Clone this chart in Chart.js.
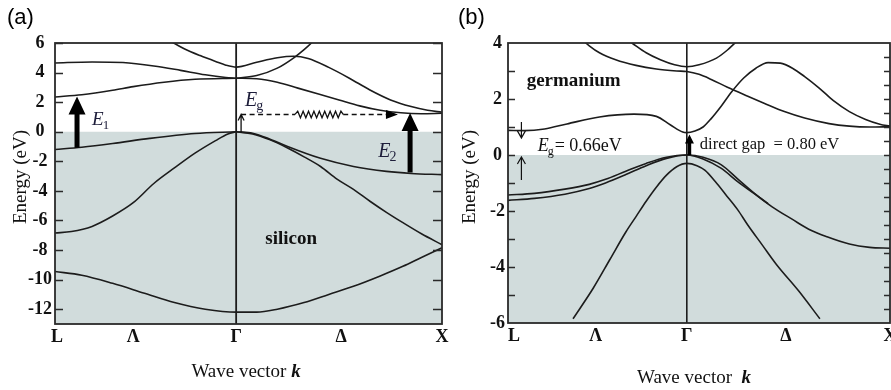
<!DOCTYPE html>
<html>
<head>
<meta charset="utf-8">
<script src="https://cdn.jsdelivr.net/npm/chart.js@4.4.1/dist/chart.umd.min.js"></script>
<style>
  html, body { margin: 0; padding: 0; background: #fff; }
  #wrap { position: relative; width: 891px; height: 390px; overflow: hidden; }
  canvas { position: absolute; top: 0; }
  #si { left: 0; }
  #ge { left: 450px; }
</style>
</head>
<body>
<div id="wrap">
  <canvas id="si" width="450" height="390"></canvas>
  <canvas id="ge" width="441" height="390"></canvas>
</div>
<script>
// Wave vector k along L -> Gamma -> X  (L = -0.88, Gamma = 0, X = 1)
const kTickLabels = ['L', 'Λ', 'Γ', 'Δ', 'X'];
const kTickPosSi = [-0.87, -0.5, 0, 0.51, 1];
const kTickPosGe = [-0.85, -0.448, 0, 0.488, 1];
const eTicksSi = [6, 4, 2, 0, -2, -4, -6, -8, -10, -12];
const eTicksGe = [4, 2, 0, -2, -4, -6];

// ---- silicon bands, [k, E(eV)] ----
const siC_Lam1 = [[-0.34, 6.3], [-0.31, 6.05], [-0.25, 5.6], [-0.175, 5.15], [-0.1, 4.75], [-0.05, 4.5], [0, 4.37],
                  [0.1, 4.7], [0.2, 5.0], [0.28, 5.1], [0.35, 4.95], [0.45, 4.35], [0.55, 3.62], [0.65, 2.82],
                  [0.75, 2.15], [0.85, 1.7], [0.93, 1.45], [1, 1.32]];
const siC_Lam3 = [[-0.88, 4.65], [-0.7, 4.72], [-0.55, 4.68], [-0.4, 4.45], [-0.27, 4.15], [-0.15, 3.85], [-0.05, 3.67], [0, 3.62]];
const siC_Lam1b = [[-0.88, 2.35], [-0.75, 2.5], [-0.6, 2.8], [-0.5, 3.05], [-0.35, 3.35], [-0.2, 3.55], [0, 3.62]];
const siC_Del1 = [[0, 3.62], [0.1, 3.58], [0.2, 3.35], [0.3, 2.95], [0.4, 2.55], [0.5, 2.15], [0.6, 1.75],
                  [0.7, 1.45], [0.8, 1.28], [0.9, 1.22], [1, 1.25]];
const siC_Del5 = [[0, 3.62], [0.1, 3.8], [0.2, 4.3], [0.28, 5.0], [0.33, 5.55], [0.38, 6.2], [0.4, 6.5]];
const siV_Lam3 = [[-0.88, -1.2], [-0.75, -1.05], [-0.6, -0.8], [-0.42, -0.45], [-0.2, -0.12], [0, 0]];
const siV_Lam1 = [[-0.88, -6.85], [-0.8, -6.75], [-0.7, -6.4], [-0.6, -5.7], [-0.5, -4.8], [-0.4, -3.5],
                  [-0.3, -2.45], [-0.2, -1.45], [-0.1, -0.6], [-0.04, -0.15], [0, 0]];
const siV_low = [[-0.88, -9.45], [-0.75, -9.7], [-0.6, -10.25], [-0.45, -10.9], [-0.3, -11.55], [-0.15, -12.0], [0, -12.2],
                 [0.1, -12.2], [0.2, -12.0], [0.33, -11.55], [0.45, -11.0], [0.57, -10.45], [0.7, -9.75],
                 [0.81, -9.1], [0.9, -8.5], [1, -7.85]];
const siV_Del5 = [[0, 0], [0.08, -0.1], [0.165, -0.5], [0.25, -1.0], [0.41, -1.8], [0.57, -2.35], [0.73, -2.68], [0.85, -2.82], [1, -2.9]];
const siV_Del2 = [[0, 0], [0.08, -0.15], [0.165, -0.55], [0.25, -1.1], [0.33, -1.7], [0.41, -2.35], [0.49, -3.2],
                  [0.57, -3.9], [0.65, -4.7], [0.73, -5.45], [0.81, -6.15], [0.9, -6.9], [1, -7.64]];

// ---- germanium bands, [k, E(eV)] ----
const geC_low = [[-0.88, 0.88], [-0.8, 0.87], [-0.7, 0.93], [-0.59, 1.11], [-0.43, 1.36], [-0.26, 1.46], [-0.15, 1.38],
                 [-0.08, 1.07], [-0.02, 0.82], [0, 0.8], [0.04, 0.86], [0.08, 1.0], [0.12, 1.3], [0.17, 1.75],
                 [0.22, 2.25], [0.28, 2.75], [0.34, 3.1], [0.4, 3.3], [0.46, 3.28], [0.52, 3.1], [0.58, 2.8],
                 [0.65, 2.4], [0.72, 1.95], [0.8, 1.55], [0.88, 1.27], [0.95, 1.1], [1, 1.03]];
const geC_mid = [[-0.52, 4.15], [-0.48, 3.9], [-0.43, 3.65], [-0.35, 3.4], [-0.25, 3.2], [-0.15, 3.07], [-0.05, 3.0],
                 [0, 2.98], [0.06, 2.88], [0.12, 2.7], [0.2, 2.42], [0.3, 2.1], [0.38, 1.85], [0.48, 1.55],
                 [0.58, 1.32], [0.7, 1.12], [0.8, 1.03], [0.9, 1.0], [1, 1.01]];
const geC_top = [[-0.3, 4.15], [-0.27, 4.0], [-0.2, 3.65], [-0.13, 3.4], [-0.06, 3.22], [0, 3.15],
                 [0.06, 3.22], [0.146, 3.46], [0.2, 3.75], [0.24, 4.02], [0.27, 4.2]];
const geV_hh = [[-0.88, -1.43], [-0.75, -1.37], [-0.6, -1.22], [-0.48, -1.05], [-0.4, -0.87], [-0.3, -0.58],
                [-0.2, -0.3], [-0.1, -0.08], [0, 0], [0.08, -0.08], [0.17, -0.35], [0.25, -0.85], [0.33, -1.35],
                [0.42, -1.85], [0.52, -2.3], [0.6, -2.65], [0.69, -2.92], [0.8, -3.18], [0.9, -3.3], [1, -3.33]];
const geV_lh = [[-0.88, -1.62], [-0.75, -1.55], [-0.6, -1.4], [-0.48, -1.2], [-0.4, -1.0], [-0.3, -0.7],
                [-0.2, -0.38], [-0.1, -0.12], [0, 0], [0.08, -0.14], [0.17, -0.48], [0.25, -0.95], [0.33, -1.37],
                [0.4, -1.74]];
const geV_so = [[-0.56, -5.85], [-0.46, -4.75], [-0.38, -3.75], [-0.3, -2.75], [-0.25, -2.2], [-0.2, -1.65],
                [-0.15, -1.15], [-0.1, -0.72], [-0.05, -0.42], [0, -0.3], [0.05, -0.38], [0.09, -0.55],
                [0.14, -0.95], [0.19, -1.4], [0.25, -1.95], [0.3, -2.5], [0.37, -3.2], [0.44, -3.9],
                [0.55, -4.85], [0.655, -5.85]];

const SERIF = '"Liberation Serif", "Times New Roman", serif';
const SANS = '"Liberation Sans", Arial, sans-serif';
const INK = '#1c1c1c';
const SHADE = 'rgb(209,220,220)';
const LABEL_INK = '#1d1d3a';

function band(points) {
  return {
    data: points.map(([k, e]) => ({ x: k, y: e })),
    borderColor: INK, borderWidth: 1.6, pointRadius: 0, fill: false,
    cubicInterpolationMode: 'monotone', order: 1
  };
}
function straight(points, width) {
  return {
    data: points.map(([k, e]) => ({ x: k, y: e })),
    borderColor: INK, borderWidth: width, pointRadius: 0, fill: false, tension: 0, order: 0
  };
}
function valenceShade(kMin, kMax) {
  return {
    data: [{ x: kMin, y: 0 }, { x: kMax, y: 0 }],
    fill: 'start', backgroundColor: SHADE, borderWidth: 0, pointRadius: 0, tension: 0, order: 10
  };
}

// ---- drawing helpers ----
function blockArrowUp(ctx, x, yBase, yTip, shaft, headW, headL) {
  ctx.beginPath();
  ctx.moveTo(x - shaft / 2, yBase);
  ctx.lineTo(x - shaft / 2, yTip + headL);
  ctx.lineTo(x - headW / 2, yTip + headL);
  ctx.lineTo(x, yTip);
  ctx.lineTo(x + headW / 2, yTip + headL);
  ctx.lineTo(x + shaft / 2, yTip + headL);
  ctx.lineTo(x + shaft / 2, yBase);
  ctx.closePath();
  ctx.fill();
}
function thinArrow(ctx, x, yFrom, yTo, half, len) {
  const dir = yTo < yFrom ? 1 : -1;
  ctx.beginPath();
  ctx.moveTo(x, yFrom); ctx.lineTo(x, yTo);
  ctx.moveTo(x - half, yTo + dir * len); ctx.lineTo(x, yTo); ctx.lineTo(x + half, yTo + dir * len);
  ctx.stroke();
}
function subLabel(ctx, x, y, main, sub, size, color) {
  ctx.fillStyle = color;
  ctx.textAlign = 'left';
  ctx.textBaseline = 'alphabetic';
  ctx.font = `italic ${size}px ${SERIF}`;
  ctx.fillText(main, x, y);
  const w = ctx.measureText(main).width;
  ctx.font = `${Math.round(size * 0.68)}px ${SERIF}`;
  ctx.fillText(sub, x + w - 1, y + size * 0.2);
  return x + w - 1 + ctx.measureText(sub).width;
}
function frame(ctx, a) {
  ctx.strokeStyle = '#2a2a2a';
  ctx.lineWidth = 1.8;
  ctx.strokeRect(a.left, a.top, a.right - a.left, a.bottom - a.top);
}
function inwardTicks(ctx, a, y, values, side, len) {
  ctx.strokeStyle = '#2a2a2a';
  ctx.lineWidth = 1.4;
  ctx.beginPath();
  values.forEach(v => {
    const py = Math.round(y.getPixelForValue(v)) + 0.5;
    if (side === 'left') { ctx.moveTo(a.left, py); ctx.lineTo(a.left + len, py); }
    else { ctx.moveTo(a.right, py); ctx.lineTo(a.right - len, py); }
  });
  ctx.stroke();
}
function axisTitles(ctx, cxE, cyE, cxK, baseK, gap) {
  ctx.fillStyle = '#111';
  ctx.font = `19px ${SERIF}`;
  ctx.save();
  ctx.translate(cxE, cyE);
  ctx.rotate(-Math.PI / 2);
  ctx.textAlign = 'center';
  ctx.textBaseline = 'middle';
  ctx.fillText('Energy (eV)', 0, 0);
  ctx.restore();
  const t1 = 'Wave vector' + gap;
  ctx.font = `19px ${SERIF}`;
  const w1 = ctx.measureText(t1).width;
  ctx.font = `italic bold 19px ${SERIF}`;
  const w2 = ctx.measureText('k').width;
  const x0 = cxK - (w1 + w2) / 2;
  ctx.textAlign = 'left';
  ctx.textBaseline = 'alphabetic';
  ctx.font = `19px ${SERIF}`;
  ctx.fillText(t1, x0, baseK);
  ctx.font = `italic bold 19px ${SERIF}`;
  ctx.fillText('k', x0 + w1, baseK);
}

const siOverlay = {
  id: 'siOverlay',
  afterDraw(chart) {
    const { ctx, chartArea: a, scales: { x, y } } = chart;
    const X = k => x.getPixelForValue(k), Y = e => y.getPixelForValue(e);
    ctx.save();
    frame(ctx, a);
    inwardTicks(ctx, a, y, eTicksSi, 'left', 8);
    inwardTicks(ctx, a, y, eTicksSi, 'right', 9);

    ctx.fillStyle = '#000';
    // E1 and E2 transitions
    blockArrowUp(ctx, X(-0.773), Y(-1.08), Y(2.39), 5, 17, 18);
    blockArrowUp(ctx, X(0.845), Y(-2.75), Y(1.26), 5, 17, 18);

    // indirect gap: up from the valence top, then across to the conduction minimum
    const yEg = Y(1.17), gx = X(0.024);
    ctx.strokeStyle = '#111';
    ctx.lineWidth = 1.3;
    thinArrow(ctx, gx, Y(-0.05), yEg, 3, 6);
    ctx.lineWidth = 1.6;
    ctx.setLineDash([5, 3.5]);
    ctx.beginPath();
    ctx.moveTo(gx, yEg); ctx.lineTo(X(0.286), yEg);
    ctx.moveTo(X(0.52), yEg); ctx.lineTo(X(0.786) - 11, yEg);
    ctx.stroke();
    ctx.setLineDash([]);
    ctx.lineWidth = 1.3;
    ctx.beginPath();
    const z0 = X(0.286), z1 = X(0.52);
    ctx.moveTo(z0, yEg);
    let up = true;
    for (let zx = z0 + 2.7; zx < z1; zx += 2.7) { ctx.lineTo(zx, yEg + (up ? -3.3 : 3.3)); up = !up; }
    ctx.lineTo(z1, yEg);
    ctx.stroke();
    ctx.beginPath();
    const tip = X(0.786);
    ctx.moveTo(tip, yEg); ctx.lineTo(tip - 12, yEg - 4.5); ctx.lineTo(tip - 12, yEg + 4.5); ctx.closePath();
    ctx.fill();

    subLabel(ctx, X(-0.7), Y(0.47), 'E', '1', 19, LABEL_INK);
    subLabel(ctx, X(0.043), Y(1.76), 'E', 'g', 20, LABEL_INK);
    subLabel(ctx, X(0.69), Y(-1.7), 'E', '2', 20, LABEL_INK);

    ctx.fillStyle = '#111';
    ctx.font = `bold 19px ${SERIF}`;
    ctx.textAlign = 'center';
    ctx.textBaseline = 'alphabetic';
    ctx.fillText('silicon', X(0.267), Y(-7.57));

    axisTitles(ctx, 21, 177, 246, 377, ' ');
    ctx.font = `22px ${SANS}`;
    ctx.textAlign = 'left';
    ctx.fillStyle = '#000';
    ctx.fillText('(a)', 7, 24);
    ctx.restore();
  }
};

const geOverlay = {
  id: 'geOverlay',
  afterDraw(chart) {
    const { ctx, chartArea: a, scales: { x, y } } = chart;
    const X = k => x.getPixelForValue(k), Y = e => y.getPixelForValue(e);
    ctx.save();
    frame(ctx, a);
    inwardTicks(ctx, a, y, [3, 2, 1, 0, -1, -2, -3, -4, -5], 'left', 7);
    inwardTicks(ctx, a, y, [3.5, 3, 2.5, 2, 1.5, 1, 0.5, 0, -0.5, -1, -1.5, -2, -2.5, -3, -3.5, -4, -4.5, -5, -5.5], 'right', 6);

    // indirect gap at L
    ctx.strokeStyle = '#111';
    ctx.lineWidth = 1.2;
    const lx = X(-0.814);
    thinArrow(ctx, lx, Y(1.18), Y(0.61), 4, 7);
    thinArrow(ctx, lx, Y(-0.89), Y(-0.07), 4, 7);

    // direct gap at Gamma
    ctx.fillStyle = '#000';
    blockArrowUp(ctx, X(0.013), Y(0), Y(0.73), 3.5, 9, 9);

    ctx.fillStyle = '#111';
    ctx.font = `bold 19px ${SERIF}`;
    ctx.textAlign = 'center';
    ctx.textBaseline = 'alphabetic';
    ctx.fillText('germanium', X(-0.557), Y(2.46));

    const end = subLabel(ctx, X(-0.734), Y(0.14), 'E', 'g', 18, '#111');
    ctx.font = `18px ${SERIF}`;
    ctx.fillStyle = '#111';
    ctx.fillText('= 0.66eV', end + 1, Y(0.14));
    ctx.font = `16.5px ${SERIF}`;
    ctx.fillText('direct gap  = 0.80 eV', X(0.064), Y(0.21));

    axisTitles(ctx, 20, 177, 244, 383, '  ');
    ctx.font = `22px ${SANS}`;
    ctx.textAlign = 'left';
    ctx.fillStyle = '#000';
    ctx.fillText('(b)', 8, 24);
    ctx.restore();
  }
};

function makeChart(id, datasets, eMin, eMax, eTicks, kTicks, axisWidth, axisHeight, padRight, overlay) {
  return new Chart(document.getElementById(id), {
    type: 'line',
    data: { datasets },
    options: {
      responsive: false, animation: false, events: [],
      layout: { padding: { top: 43, right: padRight, left: 0, bottom: 0 } },
      plugins: { legend: { display: false }, tooltip: { enabled: false } },
      scales: {
        x: {
          type: 'linear', min: -0.88, max: 1,
          grid: { display: false, drawTicks: false }, border: { display: false },
          afterBuildTicks: s => { s.ticks = kTicks.map(v => ({ value: v })); },
          afterFit: s => { s.height = axisHeight; s.paddingLeft = 0; s.paddingRight = 0; },
          ticks: {
            autoSkip: false, maxRotation: 0, padding: 3, color: '#111',
            font: { family: SERIF, size: 18, weight: 'bold' },
            callback: (v, i) => kTickLabels[i]
          }
        },
        y: {
          type: 'linear', min: eMin, max: eMax,
          grid: { display: false, drawTicks: false }, border: { display: false },
          afterBuildTicks: s => { s.ticks = eTicks.map(v => ({ value: v })); },
          afterFit: s => { s.width = axisWidth; s.paddingTop = 0; s.paddingBottom = 0; },
          ticks: {
            padding: 3, crossAlign: 'center', color: '#111',
            font: { family: SERIF, size: 18, weight: 'bold' }
          }
        }
      }
    },
    plugins: [overlay]
  });
}

makeChart('si', [
  valenceShade(-0.88, 1),
  band(siC_Lam1), band(siC_Lam3), band(siC_Lam1b), band(siC_Del1), band(siC_Del5),
  band(siV_Lam3), band(siV_Lam1), band(siV_low), band(siV_Del5), band(siV_Del2),
  straight([[0, -13], [0, 6]], 1.8)
], -13, 6, eTicksSi, kTickPosSi, 55, 66, 8, siOverlay);

makeChart('ge', [
  valenceShade(-0.88, 1),
  band(geC_low), band(geC_mid), band(geC_top),
  band(geV_hh), band(geV_lh), band(geV_so),
  straight([[0, -6], [0, 4]], 1.6)
], -6, 4, eTicksGe, kTickPosGe, 58, 67, 1, geOverlay);
</script>
</body>
</html>
